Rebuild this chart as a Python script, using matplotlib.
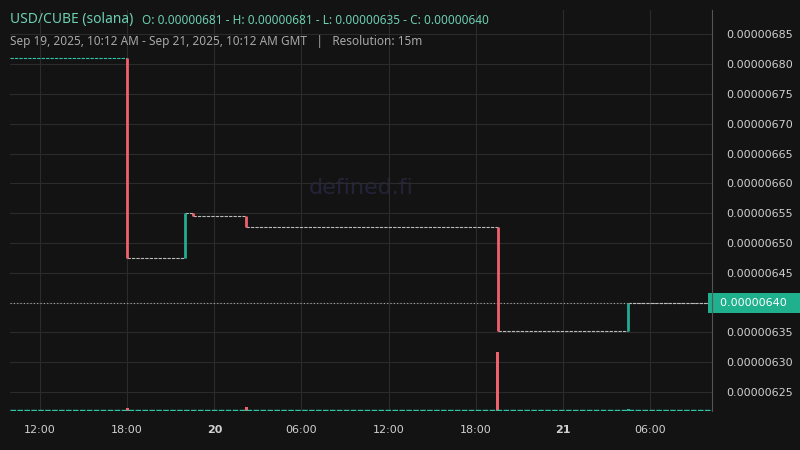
import matplotlib.pyplot as plt

# hours since Sep 19 00:00 GMT
t_start, t_end = 9.93, 58.27
ev_time = [18.0, 22.0, 22.5, 26.2, 43.5, 52.5]
ev_open = [6.81, 6.475, 6.55, 6.545, 6.527, 6.352]
ev_close = [6.475, 6.55, 6.545, 6.527, 6.352, 6.40]
ev_vol = [3, 1, 0.5, 4, 60, 2]
last_price = 6.40

xticks = [12, 18, 24, 30, 36, 42, 48, 54]
xlabels = ["12:00", "18:00", "20", "06:00", "12:00", "18:00", "21", "06:00"]
yticks = [6.25, 6.30, 6.35, 6.40, 6.45, 6.50, 6.55, 6.60, 6.65, 6.70, 6.75, 6.80, 6.85]

bg = "#131313"
red = "#f0616d"
green = "#22ab94"
fig = plt.figure(figsize=(8, 4.5), dpi=100, facecolor=bg)
ax = fig.add_axes([10 / 800, 39 / 450, 702 / 800, 401 / 450], facecolor=bg)
ax.set_xlim(t_start, t_end)
ax.set_ylim(6.218, 6.891)

# flat stretches between price moves
pts = [t_start] + ev_time + [t_end]
levels = [ev_open[0]] + ev_close
for i in range(len(levels)):
    c = "#2ec4a5" if i == 0 else "#bbbbbb"
    ax.plot([pts[i], pts[i + 1]], [levels[i], levels[i]], color=c, lw=0.8,
            ls=(0, (3, 1)), zorder=3)
for t, o, cl in zip(ev_time, ev_open, ev_close):
    ax.plot([t, t], [o, cl], color=green if cl > o else red, lw=2, zorder=4,
            solid_capstyle="butt")

# volume
vax = ax.twinx()
vax.set_ylim(0, 408)
vax.bar(ev_time, ev_vol, width=0.18,
        color=[green if c > o else red for o, c in zip(ev_open, ev_close)])
vax.plot([t_start, t_end], [0.6, 0.6], color="#2ec4a5", lw=1, ls=(0, (4, 1)))
vax.set_yticks([])
vax.set_xlim(t_start, t_end)

ax.axhline(last_price, color="#aaaaaa", lw=0.8, ls=(0, (1, 2)), zorder=2)

ax.set_xticks(xticks)
ax.set_xticklabels(xlabels)
for lbl in ax.get_xticklabels():
    if lbl.get_text() in ("20", "21"):
        lbl.set_fontweight("bold")
ax.set_yticks(yticks)
ax.set_yticklabels(["" if abs(v - last_price) < 1e-9 else f"{v * 1e-6:.8f}" for v in yticks])
ax.yaxis.tick_right()
ax.grid(color="#2b2b2b", lw=0.8)
ax.tick_params(colors="#d0d0d0", labelsize=8, length=0, pad=10)
for s in ax.spines.values():
    s.set_visible(False)
for s in vax.spines.values():
    s.set_visible(False)
vax.spines["right"].set_visible(True)
vax.spines["right"].set_color("#555555")

ax.text(1.001, last_price, f"  {last_price * 1e-6:.8f}   ", transform=ax.get_yaxis_transform(),
        ha="left", va="center", fontsize=8, color="white", zorder=10,
        bbox=dict(boxstyle="square,pad=0.45", fc="#1fb08e", ec="none"))

ax.text(0.5, 0.555, "defined.fi", transform=ax.transAxes, ha="center", va="center",
        fontsize=16, color="#25233a", zorder=1)

fig.text(10 / 800, 1 - 20 / 450, "USD/CUBE (solana)", color="#6ccfb0", fontsize=10,
         va="center", family="Noto Sans")
fig.text(142 / 800, 1 - 20 / 450,
         "O: 0.00000681 - H: 0.00000681 - L: 0.00000635 - C: 0.00000640",
         color="#6ccfb0", fontsize=8.5, va="center", family="Noto Sans")
fig.text(10 / 800, 1 - 41 / 450,
         "Sep 19, 2025, 10:12 AM - Sep 21, 2025, 10:12 AM GMT   |   Resolution: 15m",
         color="#a8a8a8", fontsize=8.5, va="center", family="Noto Sans")

fig.savefig("out.png", facecolor=bg)
